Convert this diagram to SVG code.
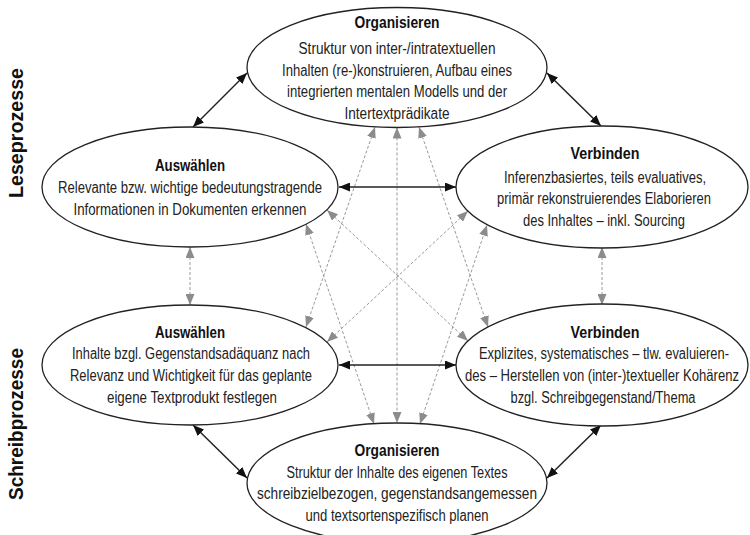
<svg xmlns="http://www.w3.org/2000/svg" width="750" height="535" viewBox="0 0 750 535">
<style>
.el{fill:#fff;stroke:#222;stroke-width:1.3}
.t{font-family:"Liberation Sans",Arial,sans-serif;font-size:16px;fill:#222;text-anchor:middle}
.b{font-weight:bold;fill:#111}
.side{font-family:"Liberation Sans",Arial,sans-serif;font-size:20px;font-weight:bold;fill:#111;text-anchor:middle}
.s{stroke:#222;stroke-width:1.5;fill:none;marker-start:url(#ah);marker-end:url(#ah)}
.d{stroke:#9a9a9a;stroke-width:1;stroke-dasharray:3 2;fill:none;marker-start:url(#gh);marker-end:url(#gh)}
</style>
<defs>
<marker id="ah" markerUnits="userSpaceOnUse" markerWidth="11" markerHeight="9" refX="11" refY="4.5" orient="auto-start-reverse"><path d="M0,0 L11,4.5 L0,9 Z" fill="#111"/></marker>
<marker id="gh" markerUnits="userSpaceOnUse" markerWidth="11" markerHeight="9" refX="11" refY="4.5" orient="auto-start-reverse"><path d="M0,0 L11,4.5 L0,9 Z" fill="#8c8c8c"/></marker>
</defs>
<rect width="750" height="535" fill="#fff"/>
<text class="side" transform="translate(23,133) rotate(-90)" textLength="130" lengthAdjust="spacingAndGlyphs">Leseprozesse</text>
<text class="side" transform="translate(23,424) rotate(-90)" textLength="152" lengthAdjust="spacingAndGlyphs">Schreibprozesse</text>
<g id="connectors">
<line class="d" x1="397" y1="127.5" x2="397" y2="423"/>
<line class="d" x1="375" y1="127" x2="306" y2="327"/>
<line class="d" x1="419" y1="127" x2="488" y2="327"/>
<line class="d" x1="374" y1="424" x2="306" y2="224"/>
<line class="d" x1="420" y1="424" x2="487" y2="225"/>
<line class="d" x1="327" y1="210" x2="468" y2="341"/>
<line class="d" x1="468" y1="211" x2="327" y2="342"/>
<line class="d" x1="190" y1="247" x2="190" y2="305"/>
<line class="d" x1="602" y1="247" x2="602" y2="305"/>
<line class="s" x1="247" y1="73" x2="193" y2="127"/>
<line class="s" x1="547" y1="73" x2="601" y2="126"/>
<line class="s" x1="339" y1="187" x2="456" y2="187"/>
<line class="s" x1="339" y1="365" x2="456" y2="365"/>
<line class="s" x1="193" y1="425" x2="247" y2="478"/>
<line class="s" x1="601" y1="425" x2="547" y2="478"/>
</g>
<g id="lese-organisieren">
<ellipse class="el" cx="397" cy="67.5" rx="150" ry="60"/>
<text class="t b" x="397" y="28" textLength="85" lengthAdjust="spacingAndGlyphs">Organisieren</text>
<text class="t" x="397" y="54" textLength="197" lengthAdjust="spacingAndGlyphs">Struktur von inter-/intratextuellen</text>
<text class="t" x="397" y="75.5" textLength="230" lengthAdjust="spacingAndGlyphs">Inhalten (re-)konstruieren, Aufbau eines</text>
<text class="t" x="397" y="97" textLength="220" lengthAdjust="spacingAndGlyphs">integrierten mentalen Modells und der</text>
<text class="t" x="397" y="118.5" textLength="105" lengthAdjust="spacingAndGlyphs">Intertextprädikate</text>
</g>
<g id="lese-auswaehlen">
<ellipse class="el" cx="190" cy="187" rx="148" ry="60"/>
<text class="t b" x="190" y="170.5" textLength="70" lengthAdjust="spacingAndGlyphs">Auswählen</text>
<text class="t" x="190" y="192.5" textLength="264" lengthAdjust="spacingAndGlyphs">Relevante bzw. wichtige bedeutungstragende</text>
<text class="t" x="190" y="214.5" textLength="233" lengthAdjust="spacingAndGlyphs">Informationen in Dokumenten erkennen</text>
</g>
<g id="lese-verbinden">
<ellipse class="el" cx="602" cy="187" rx="146" ry="61"/>
<text class="t b" x="605" y="158.5" textLength="69" lengthAdjust="spacingAndGlyphs">Verbinden</text>
<text class="t" x="605" y="182.5" textLength="202" lengthAdjust="spacingAndGlyphs">Inferenzbasiertes, teils evaluatives,</text>
<text class="t" x="604" y="203.5" textLength="214" lengthAdjust="spacingAndGlyphs">primär rekonstruierendes Elaborieren</text>
<text class="t" x="604" y="225.5" textLength="162" lengthAdjust="spacingAndGlyphs">des Inhaltes – inkl. Sourcing</text>
</g>
<g id="schreib-auswaehlen">
<ellipse class="el" cx="190" cy="365" rx="148" ry="60"/>
<text class="t b" x="190" y="337.5" textLength="70" lengthAdjust="spacingAndGlyphs">Auswählen</text>
<text class="t" x="191" y="358.5" textLength="238" lengthAdjust="spacingAndGlyphs">Inhalte bzgl. Gegenstandsadäquanz nach</text>
<text class="t" x="191" y="380.5" textLength="242" lengthAdjust="spacingAndGlyphs">Relevanz und Wichtigkeit für das geplante</text>
<text class="t" x="192" y="402.5" textLength="170" lengthAdjust="spacingAndGlyphs">eigene Textprodukt festlegen</text>
</g>
<g id="schreib-verbinden">
<ellipse class="el" cx="602" cy="365" rx="146" ry="61"/>
<text class="t b" x="605" y="337.5" textLength="69" lengthAdjust="spacingAndGlyphs">Verbinden</text>
<text class="t" x="604" y="358.5" textLength="250" lengthAdjust="spacingAndGlyphs">Explizites, systematisches – tlw. evaluieren-</text>
<text class="t" x="602" y="380.5" textLength="274" lengthAdjust="spacingAndGlyphs">des – Herstellen von (inter-)textueller Kohärenz</text>
<text class="t" x="603" y="402.5" textLength="185" lengthAdjust="spacingAndGlyphs">bzgl. Schreibgegenstand/Thema</text>
</g>
<g id="schreib-organisieren">
<ellipse class="el" cx="397" cy="483" rx="150" ry="60"/>
<text class="t b" x="397" y="455.5" textLength="85" lengthAdjust="spacingAndGlyphs">Organisieren</text>
<text class="t" x="397" y="477.5" textLength="221" lengthAdjust="spacingAndGlyphs">Struktur der Inhalte des eigenen Textes</text>
<text class="t" x="397" y="498.5" textLength="280" lengthAdjust="spacingAndGlyphs">schreibzielbezogen, gegenstandsangemessen</text>
<text class="t" x="397" y="520.5" textLength="183" lengthAdjust="spacingAndGlyphs">und textsortenspezifisch planen</text>
</g>
</svg>
